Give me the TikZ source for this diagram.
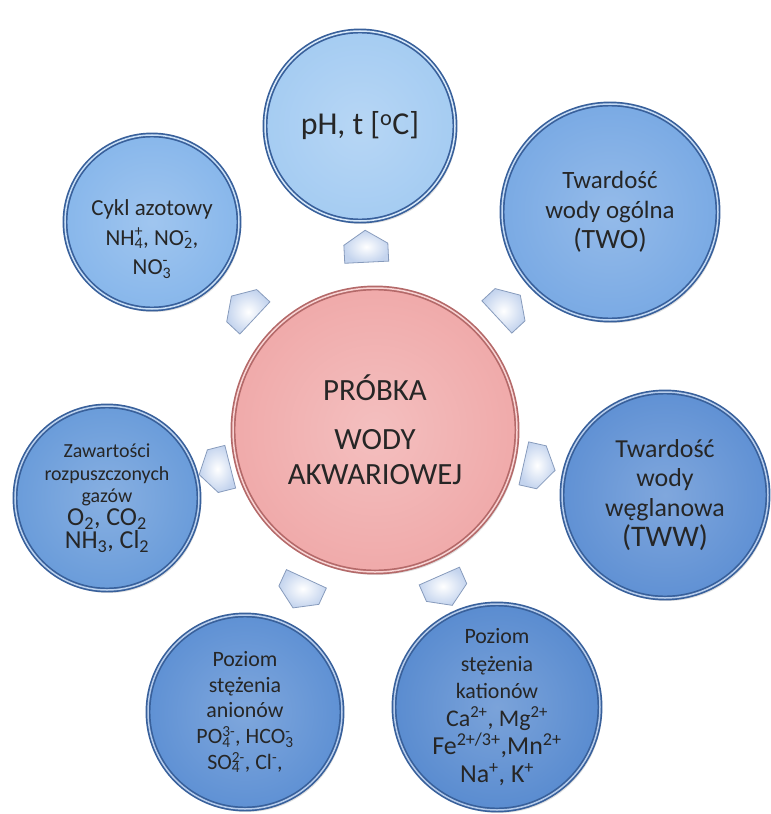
\documentclass[tikz,border=0pt]{standalone}
\usepackage{fontspec}
\setmainfont{Carlito}
\definecolor{rimblue}{RGB}{56,96,155}
\definecolor{phblue}{RGB}{165,204,242}
\definecolor{twoblue}{RGB}{122,170,228}
\definecolor{twwblue}{RGB}{96,145,212}
\definecolor{katblue}{RGB}{90,140,208}
\definecolor{anblue}{RGB}{95,145,212}
\definecolor{zawblue}{RGB}{106,156,218}
\definecolor{cykblue}{RGB}{136,183,235}
\definecolor{probpink}{RGB}{240,170,170}
\definecolor{probrim}{RGB}{180,105,105}
\definecolor{arrfill}{RGB}{196,212,238}
\definecolor{arredge}{RGB}{135,155,188}
\usetikzlibrary{shapes.arrows,shadows,calc}
% ion with stacked sub- and superscript
\newcommand{\jon}[2]{\setbox0=\hbox{\textsubscript{#1}}\setbox2=\hbox{\textsuperscript{#2}}%
  \ifdim\wd0>\wd2\relax\rlap{\box2}\box0 \else\rlap{\box0}\box2 \fi}
\tikzset{
  kolo/.style={circle, inner sep=0pt, align=center, text=black!85,
    line width=1.7bp, double distance=1.5bp,
    drop shadow={shadow xshift=2bp, shadow yshift=-3bp, opacity=0.25}},
  niebieskie/.style={kolo, draw=rimblue, double=#1!45!white,
    inner color=#1!80!white, outer color=#1},
  strzalka/.style={single arrow, single arrow head extend=0bp,
    single arrow tip angle=115, minimum height=32bp, minimum width=44bp,
    inner sep=0pt, draw=arredge, line width=0.8bp,
    inner color=white, outer color=arrfill}
}
\begin{document}
\begin{tikzpicture}[x=1bp,y=-1bp]
  \useasboundingbox (0,0) rectangle (771,814);

  % Sample in the middle
  \node[kolo, draw=probrim, double=probpink!50!white, inner color=probpink!75!white,
    outer color=probpink, minimum size=284bp, font=\fontsize{31}{35}\selectfont]
    (prob) at (375,430) {PRÓBKA\\[14pt]WODY\\AKWARIOWEJ};

  % pH and temperature (top)
  \node[niebieskie=phblue, minimum size=190bp, font=\fontsize{32}{36}\selectfont]
    (ph) at (360,126) {pH, t [\textsuperscript{o}C]};

  % General hardness (top-right)
  \node[niebieskie=twoblue, minimum size=216bp, font=\fontsize{25}{30}\selectfont]
    (two) at (610,212) {Twardość\\wody ogólna\\{\fontsize{28}{30}\selectfont (TWO)}};

  % Carbonate hardness (right)
  \node[niebieskie=twwblue, minimum size=206bp, font=\fontsize{26}{30}\selectfont]
    (tww) at (665,495) {Twardość\\wody\\węglanowa\\{\fontsize{30}{31}\selectfont (TWW)}};

  % Cations (bottom-right)
  \node[niebieskie=katblue, minimum size=206bp, font=\fontsize{22}{28}\selectfont]
    (kat) at (497,707) {Poziom\\stężenia\\kationów\\
      {\fontsize{24}{29}\selectfont Ca\textsuperscript{2+}, Mg\textsuperscript{2+}}\\
      {\fontsize{26}{30}\selectfont Fe\textsuperscript{2+/3+},Mn\textsuperscript{2+}}\\
      {\fontsize{26}{32}\selectfont Na\textsuperscript{+}, K\textsuperscript{+}}};

  % Anions (bottom-left)
  \node[niebieskie=anblue, minimum size=194bp, font=\fontsize{22}{26}\selectfont]
    (an) at (245,712) {Poziom\\stężenia\\anionów\\
      PO\jon{4}{3-}, HCO\jon{3}{-}\\SO\jon{4}{2-}, Cl\textsuperscript{-},};

  % Dissolved gases (left)
  \node[niebieskie=zawblue, minimum size=184bp, font=\fontsize{20}{23}\selectfont]
    (zaw) at (107,498) {Zawartości\\rozpuszczonych\\gazów\\
      {\fontsize{26}{29}\selectfont O\textsubscript{2}, CO\textsubscript{2}}\\
      {\fontsize{26}{29}\selectfont NH\textsubscript{3}, Cl\textsubscript{2}}};

  % Nitrogen cycle (top-left), text sits low in the circle
  \node[niebieskie=cykblue, minimum size=174bp] (cyk) at (152,222) {};
  \node[align=center, text=black!85, font=\fontsize{23}{30}\selectfont]
    (cykt) at ([yshift=-17bp]cyk.center)
    {Cykl azotowy\\NH\jon{4}{+}, NO\jon{2}{-},\\NO\jon{3}{-}};

  % Block arrows from the sample outwards
  \foreach \o/\p in {ph/0.52, two/0.47, tww/0.37, kat/0.46, an/0.43, zaw/0.38, cyk/0.41}
    \path (prob) -- (\o) node[strzalka, sloped, allow upside down, pos=\p] (a-\o) {};
\end{tikzpicture}
\end{document}
